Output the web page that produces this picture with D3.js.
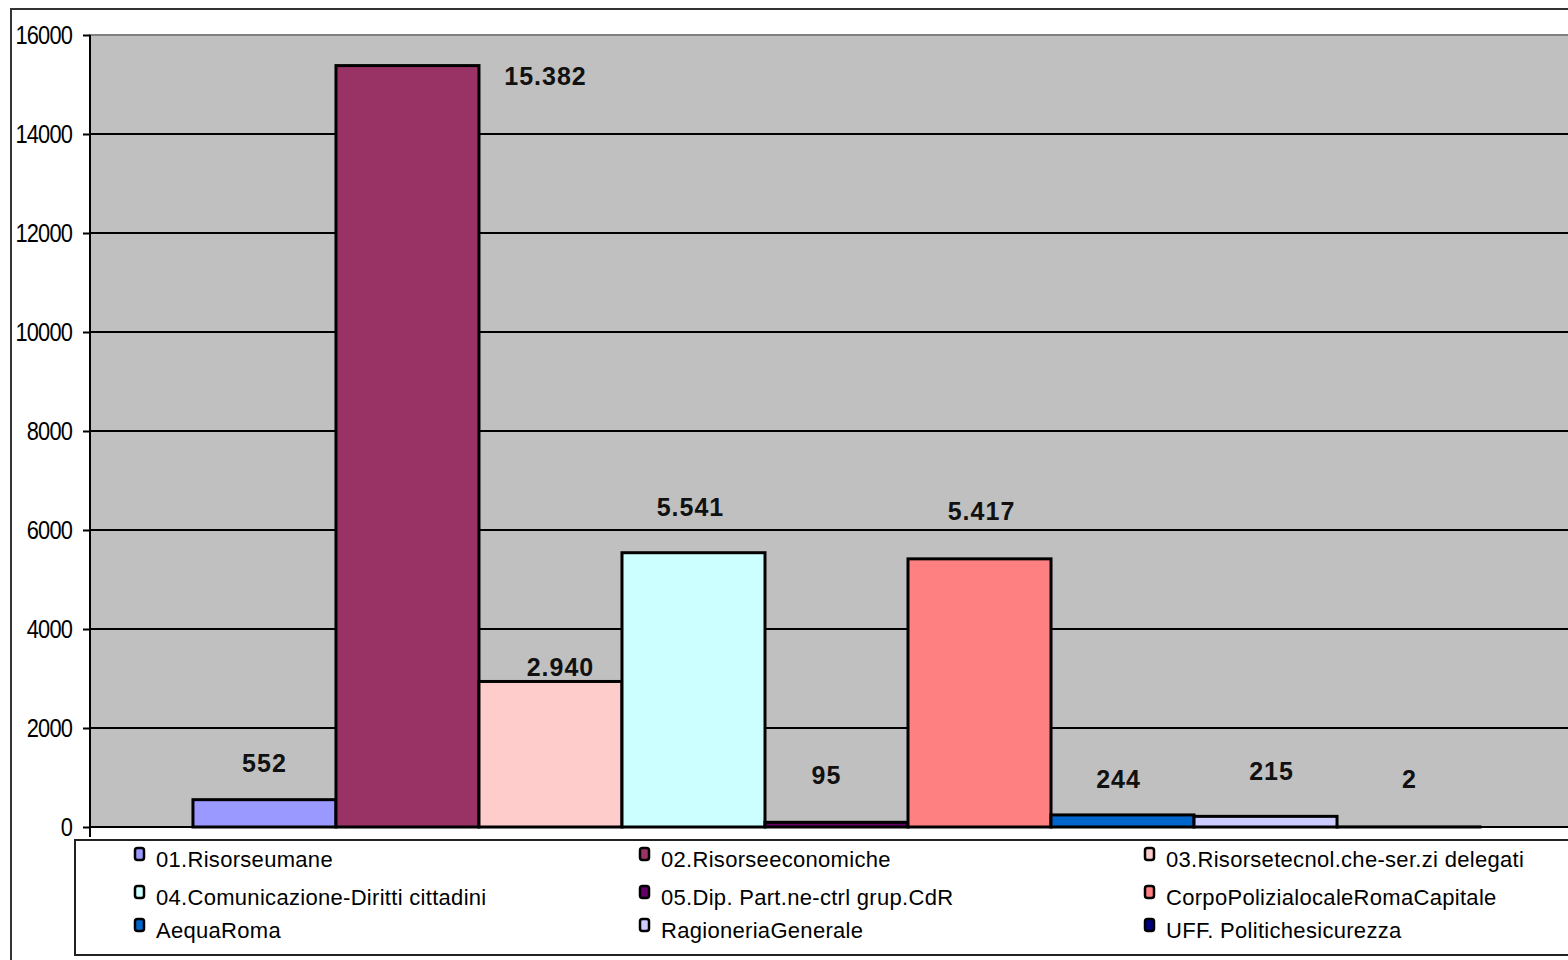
<!DOCTYPE html>
<html>
<head>
<meta charset="utf-8">
<script src="https://cdn.jsdelivr.net/npm/d3@7"></script>
<style>
  html, body { margin: 0; padding: 0; background: #ffffff; overflow: hidden; }
  svg { display: block; }
</style>
</head>
<body>
<svg id="chart" width="1568" height="960"></svg>
<script>
// Series (one bar each, single category)
const seriesNames = [
  "01.Risorseumane",
  "02.Risorseeconomiche",
  "03.Risorsetecnol.che-ser.zi delegati",
  "04.Comunicazione-Diritti cittadini",
  "05.Dip. Part.ne-ctrl grup.CdR",
  "CorpoPolizialocaleRomaCapitale",
  "AequaRoma",
  "RagioneriaGenerale",
  "UFF. Politichesicurezza"
];
const seriesValues = [552, 15382, 2940, 5541, 95, 5417, 244, 215, 2];
const seriesColors = [
  "#9999FF", "#993366", "#FFCCCC", "#CCFFFF", "#660066",
  "#FF8080", "#0066CC", "#CCCCFF", "#000080"
];
const yTicks = [0, 2000, 4000, 6000, 8000, 10000, 12000, 14000, 16000];

// Label nudges relative to the top-centre of each bar (layout only)
const labelNudge = [
  [0, -37], [138, 10], [10, -14], [-3, -46], [-10, -47],
  [2, -48], [-4, -36], [6, -45], [1, -48]
];

const svg = d3.select("#chart");

const plot = { left: 90, right: 1583, top: 35, bottom: 827 };

const x = d3.scaleBand()
  .domain(seriesNames)
  .range([plot.left, plot.right])
  .paddingInner(0)
  .paddingOuter(0.72);

const y = d3.scaleLinear()
  .domain([0, 16000])
  .range([plot.bottom, plot.top]);

// Italian number format for value labels
const it = d3.formatLocale({ decimal: ",", thousands: ".", grouping: [3], currency: ["€", ""] });
const fmt = it.format(",d");

// Outer chart frame
svg.append("rect")
  .attr("x", 11).attr("y", 9)
  .attr("width", 1700).attr("height", 1000)
  .attr("fill", "#ffffff")
  .attr("stroke", "#333333")
  .attr("stroke-width", 2);

// Plot area
svg.append("rect")
  .attr("x", plot.left).attr("y", plot.top)
  .attr("width", plot.right - plot.left)
  .attr("height", plot.bottom - plot.top)
  .attr("fill", "#C0C0C0")
  .attr("stroke", "#808080")
  .attr("stroke-width", 2);

// Gridlines
svg.append("g")
  .selectAll("line")
  .data(yTicks.filter(d => d > 0 && d < 16000))
  .join("line")
  .attr("x1", plot.left).attr("x2", plot.right)
  .attr("y1", d => y(d)).attr("y2", d => y(d))
  .attr("stroke", "#000000")
  .attr("stroke-width", 2);

// Bars
svg.append("g")
  .selectAll("rect")
  .data(seriesValues)
  .join("rect")
  .attr("x", (d, i) => x(seriesNames[i]))
  .attr("y", d => y(d))
  .attr("width", x.bandwidth())
  .attr("height", d => y(0) - y(d))
  .attr("fill", (d, i) => seriesColors[i])
  .attr("stroke", "#000000")
  .attr("stroke-width", 3);

// Category axis baseline
svg.append("line")
  .attr("x1", plot.left).attr("x2", plot.right)
  .attr("y1", y(0)).attr("y2", y(0))
  .attr("stroke", "#000000").attr("stroke-width", 2);

// Value axis
const squeeze = 0.84;
const yAxis = d3.axisLeft(y)
  .tickValues(yTicks)
  .tickSize(7)
  .tickPadding(10)
  .tickFormat(d3.format("d"));

const gy = svg.append("g")
  .attr("transform", `translate(${plot.left},0)`)
  .call(yAxis);
gy.select(".domain").remove();
gy.selectAll(".tick line").attr("stroke", "#000000").attr("stroke-width", 2);
gy.selectAll(".tick text")
  .attr("fill", "#000000")
  .attr("x", -18 / squeeze)
  .attr("transform", `scale(${squeeze},1)`)
  .style("font-family", "'Liberation Sans', Arial, sans-serif")
  .style("font-size", "26px")
  .style("letter-spacing", "-1px");
svg.append("line")
  .attr("x1", plot.left).attr("x2", plot.left)
  .attr("y1", plot.top).attr("y2", 837)
  .attr("stroke", "#000000").attr("stroke-width", 2);

// Value labels
svg.append("g")
  .selectAll("text")
  .data(seriesValues)
  .join("text")
  .attr("x", (d, i) => x(seriesNames[i]) + x.bandwidth() / 2 + labelNudge[i][0])
  .attr("y", (d, i) => y(d) + labelNudge[i][1])
  .attr("text-anchor", "middle")
  .attr("dominant-baseline", "central")
  .style("font-family", "'Liberation Sans', Arial, sans-serif")
  .style("font-weight", "bold")
  .style("font-size", "25px")
  .style("letter-spacing", "1px")
  .attr("fill", "#111111")
  .text(d => fmt(d));

// Legend
const legendBox = { x: 75, y: 840, w: 1700, h: 115 };
svg.append("rect")
  .attr("x", legendBox.x).attr("y", legendBox.y)
  .attr("width", legendBox.w).attr("height", legendBox.h)
  .attr("fill", "#ffffff")
  .attr("stroke", "#222222")
  .attr("stroke-width", 2);

const legendCols = [133, 638, 1143];
const legendRows = [859, 897, 930];

const items = svg.append("g")
  .selectAll("g")
  .data(seriesNames)
  .join("g")
  .attr("transform", (d, i) => `translate(${legendCols[i % 3]},${legendRows[Math.floor(i / 3)]})`);

items.append("rect")
  .attr("x", 2).attr("y", -11)
  .attr("width", 9).attr("height", 12)
  .attr("rx", 2.5)
  .attr("fill", (d, i) => seriesColors[i])
  .attr("stroke", "#000000")
  .attr("stroke-width", 2.5);

items.append("text")
  .attr("x", 23).attr("y", 0)
  .attr("dominant-baseline", "central")
  .style("font-family", "'Liberation Sans', Arial, sans-serif")
  .style("font-size", "22px")
  .style("letter-spacing", "0.3px")
  .attr("fill", "#000000")
  .text(d => d);
</script>
</body>
</html>
